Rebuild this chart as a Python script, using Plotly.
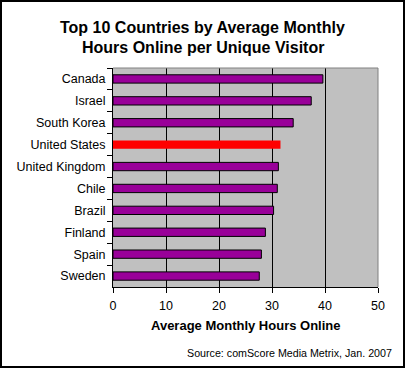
import plotly.graph_objects as go

countries = ["Canada", "Israel", "South Korea", "United States", "United Kingdom",
             "Chile", "Brazil", "Finland", "Spain", "Sweden"]
hours = [39.6, 37.4, 34.0, 31.6, 31.2, 31.0, 30.3, 28.75, 28.0, 27.6]
highlight = "United States"
x_ticks = [0, 10, 20, 30, 40, 50]

title_lines = ["Top 10 Countries by Average Monthly", "Hours Online per Unique Visitor"]
x_title = "Average Monthly Hours Online"
source = "Source: comScore Media Metrix, Jan. 2007"

FONT = "Liberation Sans, Arial, sans-serif"
W, H = 405, 368
L, R, T, B = 113, 27, 68, 81
PW, PH = W - L - R, H - T - B

def px(xp):
    return (xp - L) / PW

def py(yp):
    return (H - B - yp) / PH

colors = ["#FF0000" if c == highlight else "#990099" for c in countries]
lw = [0 if c == highlight else 1 for c in countries]

fig = go.Figure(go.Bar(
    x=hours, y=countries, orientation="h", width=0.38,
    marker=dict(color=colors, line=dict(color="black", width=lw)),
    hoverinfo="skip",
))

fig.update_layout(
    width=W, height=H,
    margin=dict(l=L, r=R, t=T, b=B, pad=0),
    paper_bgcolor="white", plot_bgcolor="#C0C0C0",
    font=dict(family=FONT, size=12.5, color="black"),
    showlegend=False,
    xaxis=dict(range=[0, 50], tickvals=x_ticks, ticktext=[str(v) for v in x_ticks],
               showgrid=True, gridcolor="black", gridwidth=1, zeroline=False,
               showline=True, linecolor="black", linewidth=1,
               ticks="outside", ticklen=5, tickcolor="black", tickwidth=1,
               ticklabelstandoff=2,
               tickfont=dict(size=12.5), fixedrange=True),
    yaxis=dict(categoryorder="array", categoryarray=countries, autorange="reversed",
               showgrid=False, zeroline=False,
               showline=True, linecolor="black", linewidth=1,
               ticks="outside", ticklen=5, tickcolor="black", tickwidth=1,
               tickson="boundaries", ticklabelstandoff=4,
               tickfont=dict(size=12.5), fixedrange=True),
    shapes=[
        dict(type="line", xref="paper", yref="paper", x0=0, x1=1, y0=1, y1=1,
             line=dict(color="#808080", width=1)),
        dict(type="line", xref="paper", yref="paper", x0=1, x1=1, y0=0, y1=1,
             line=dict(color="#808080", width=1)),
        dict(type="rect", xref="paper", yref="paper",
             x0=px(1), x1=px(W - 1), y0=py(H - 1), y1=py(1),
             line=dict(color="black", width=2), fillcolor="rgba(0,0,0,0)"),
    ],
    annotations=[
        dict(text="<b>%s</b>" % title_lines[0], xref="paper", yref="paper",
             x=px(202.5), y=py(27), xanchor="center", yanchor="middle",
             showarrow=False, font=dict(size=16)),
        dict(text="<b>%s</b>" % title_lines[1], xref="paper", yref="paper",
             x=px(202.5), y=py(47), xanchor="center", yanchor="middle",
             showarrow=False, font=dict(size=16)),
        dict(text="<b>%s</b>" % x_title, xref="paper", yref="paper",
             x=px(245.5), y=py(325), xanchor="center", yanchor="middle",
             showarrow=False, font=dict(size=13)),
        dict(text=source, xref="paper", yref="paper",
             x=px(393.5), y=py(353), xanchor="right", yanchor="middle",
             showarrow=False, font=dict(size=10.7)),
    ],
)

fig.write_html("out.html", config={"displayModeBar": False},
               post_script="document.body.style.margin='0';document.body.style.overflow='hidden';")
